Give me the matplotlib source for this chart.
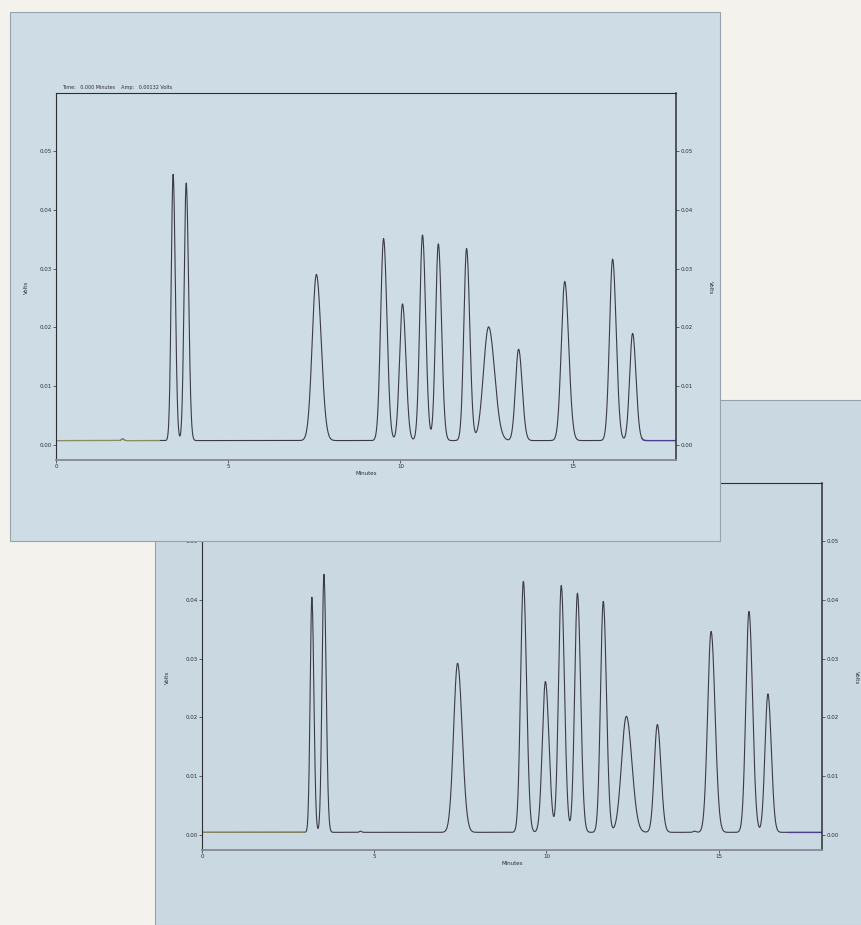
import numpy as np
import matplotlib
matplotlib.use("Agg")
import matplotlib.pyplot as plt
from matplotlib.patches import Rectangle

# upper printout: retention time (min), apex height above baseline (V), width (min)
TOP_RT     = [1.93, 3.40, 3.78, 7.56, 9.51, 10.06, 10.64, 11.10, 11.92, 12.56, 13.43, 14.77, 16.16, 16.74]
TOP_HEIGHT = [0.0003, 0.0452, 0.0437, 0.0282, 0.0343, 0.0232, 0.0349, 0.0334, 0.0326, 0.0193, 0.0155, 0.0270, 0.0308, 0.0182]
TOP_WIDTH  = [0.03, 0.055, 0.06, 0.12, 0.085, 0.085, 0.08, 0.08, 0.08, 0.15, 0.09, 0.10, 0.09, 0.085]
TOP_BASE   = 0.0008

# lower printout
BOT_RT     = [3.19, 3.54, 4.60, 7.42, 9.33, 9.97, 10.43, 10.90, 11.65, 12.32, 13.22, 14.30, 14.78, 15.88, 16.43]
BOT_HEIGHT = [0.0399, 0.0438, 0.0002, 0.0287, 0.0426, 0.0256, 0.0419, 0.0406, 0.0392, 0.0197, 0.0183, 0.0002, 0.0341, 0.0375, 0.0235]
BOT_WIDTH  = [0.05, 0.055, 0.03, 0.115, 0.08, 0.09, 0.08, 0.08, 0.08, 0.14, 0.09, 0.04, 0.10, 0.09, 0.085]
BOT_BASE   = 0.0005

X_TICKS = [0, 5, 10, 15]
Y_TICKS = [0.00, 0.01, 0.02, 0.03, 0.04, 0.05]
HEADER  = "Time:   0.000 Minutes    Amp:   0.00132 Volts"

# ── styling ──────────────────────────────────────────────────────────────────

W, H = 861, 925
PAPER = "#f3f2ed"
PANEL = "#cedce5"
PANEL_EDGE = "#95a3ac"
TRACE = "#3b3b48"
INK = "#2e2e33"
TAIL = 1.15         # right-side width factor (peak tailing)


def trace(t, rts, heights, widths, base):
    y = np.full_like(t, base)
    for rt, h, w in zip(rts, heights, widths):
        s = np.where(t < rt, w, w * TAIL)
        y += h * np.exp(-0.5 * ((t - rt) / s) ** 2)
    return y


def frac(x0, y0, x1, y1):
    """pixel box (top-left origin) -> figure fraction rect"""
    return [x0 / W, 1 - y1 / H, (x1 - x0) / W, (y1 - y0) / H]


def setup(ax, t, y, lab_left, lab_right):
    ax.set_facecolor("none")
    ax.plot(t, y, color=TRACE, lw=0.8)
    lead = t < 3.0
    ax.plot(t[lead], y[lead], color="#8e8d60", lw=0.8)
    end = t > 17.0
    ax.plot(t[end], y[end], color="#4a3f88", lw=0.9)
    ax.set_xlim(0, 18.0)
    ax.set_ylim(-0.0025, 0.0598)
    ax.set_xticks(X_TICKS)
    ax.set_yticks(Y_TICKS)
    ax.set_yticklabels([f"{v:.2f}" for v in Y_TICKS])
    ax.tick_params(direction="out", length=2, width=0.5, labelsize=4, pad=1,
                   colors=INK, right=True, labelright=True)
    for side in ("left", "top", "right"):
        ax.spines[side].set_color(INK)
        ax.spines[side].set_linewidth(0.8)
    ax.spines["right"].set_linewidth(1.1)
    ax.spines["bottom"].set_color("#858b92")
    ax.spines["bottom"].set_linewidth(1.3)
    ax.set_xlabel("Minutes", fontsize=4, labelpad=1.5, color=INK)
    ax.text(lab_left, 0.47, "Volts", transform=ax.transAxes, rotation=90,
            fontsize=4, color=INK, ha="center", va="center")
    ax.text(lab_right, 0.47, "Volts", transform=ax.transAxes, rotation=270,
            fontsize=4, color=INK, ha="center", va="center")
    ax.text(0.01, 1.008, HEADER, transform=ax.transAxes, fontsize=3.5,
            color=INK, va="bottom", ha="left")


fig = plt.figure(figsize=(W / 100, H / 100), dpi=100, facecolor=PAPER)

# lower sheet (behind)
fig.add_artist(Rectangle((155 / W, 0), 1.0, 525 / H, transform=fig.transFigure,
                         facecolor="#cad8e1", edgecolor=PANEL_EDGE, lw=0.8, zorder=-3))
# upper sheet (in front)
fig.add_artist(Rectangle((10 / W, 1 - 541 / H), 710 / W, 529 / H, transform=fig.transFigure,
                         facecolor=PANEL, edgecolor=PANEL_EDGE, lw=0.8, zorder=0.5))

t = np.linspace(0, 18, 5000)

ax_bot = fig.add_axes(frac(202, 483, 822, 850), zorder=-1)
setup(ax_bot, t, trace(t, BOT_RT, BOT_HEIGHT, BOT_WIDTH, BOT_BASE), -0.055, 1.055)

ax_top = fig.add_axes(frac(56, 93, 676, 460), zorder=1)
setup(ax_top, t, trace(t, TOP_RT, TOP_HEIGHT, TOP_WIDTH, TOP_BASE), -0.047, 1.055)

fig.savefig("out.png", dpi=100, facecolor=PAPER)
